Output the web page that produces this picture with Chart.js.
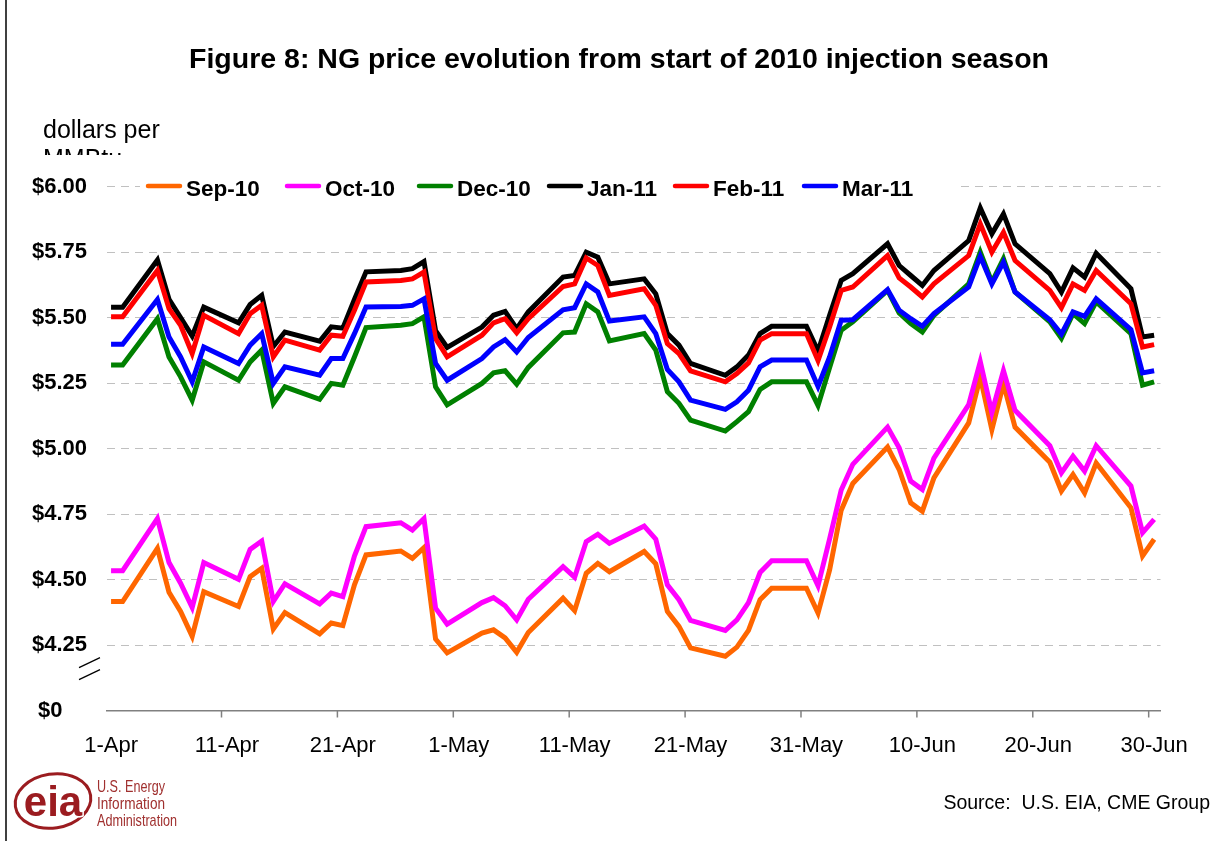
<!DOCTYPE html>
<html>
<head>
<meta charset="utf-8">
<title>NG price evolution</title>
<script src="https://cdn.jsdelivr.net/npm/chart.js@4.4.1/dist/chart.umd.min.js"></script>
<style>
  html, body { margin: 0; padding: 0; background: #fff; }
  canvas { display: block; }
</style>
</head>
<body>
<canvas id="chart" width="1228" height="841"></canvas>
<script>
const FONT = "'Liberation Sans', Arial, Helvetica, sans-serif";

// trading days, counted from 1-Apr-2010 (holidays repeat the previous settle)
const days = [
  0, 1, 4, 5, 6, 7, 8, 11, 12, 13, 14, 15, 18, 19, 20, 21, 22, 25, 26, 27, 28, 29,
  32, 33, 34, 35, 36, 39, 40, 41, 42, 43, 46, 47, 48, 49, 50, 53, 54, 55, 56, 57, 60,
  61, 62, 63, 64, 67, 68, 69, 70, 71, 74, 75, 76, 77, 78, 81, 82, 83, 84, 85, 88, 89, 90,
];

const sep10 = [
  4.416, 4.416, 4.619, 4.451, 4.378, 4.283, 4.454, 4.397, 4.511, 4.543, 4.311, 4.374, 4.293, 4.334, 4.324, 4.48, 4.594, 4.609, 4.581, 4.622, 4.273, 4.22,
  4.296, 4.308, 4.277, 4.222, 4.298, 4.429, 4.381, 4.524, 4.562, 4.53, 4.607, 4.56, 4.378, 4.321, 4.239, 4.207, 4.242, 4.306, 4.423, 4.467, 4.467,
  4.372, 4.537, 4.765, 4.867, 5.006, 4.92, 4.793, 4.761, 4.888, 5.098, 5.273, 5.072, 5.247, 5.082, 4.948, 4.838, 4.901, 4.831, 4.945, 4.774, 4.59, 4.654,
];
const oct10 = [
  4.534, 4.534, 4.733, 4.565, 4.486, 4.393, 4.565, 4.501, 4.615, 4.647, 4.416, 4.484, 4.407, 4.448, 4.435, 4.59, 4.702, 4.717, 4.689, 4.733, 4.391, 4.33,
  4.412, 4.431, 4.4, 4.346, 4.425, 4.549, 4.509, 4.645, 4.673, 4.638, 4.704, 4.654, 4.48, 4.423, 4.344, 4.306, 4.346, 4.412, 4.527, 4.572, 4.572,
  4.476, 4.655, 4.842, 4.94, 5.082, 5.003, 4.876, 4.844, 4.964, 5.168, 5.332, 5.138, 5.298, 5.146, 5.011, 4.907, 4.971, 4.914, 5.011, 4.857, 4.679, 4.73,
];
const dec10 = [
  5.319, 5.319, 5.496, 5.35, 5.274, 5.185, 5.331, 5.261, 5.331, 5.376, 5.173, 5.236, 5.188, 5.249, 5.242, 5.35, 5.462, 5.471, 5.477, 5.503, 5.236, 5.167,
  5.249, 5.289, 5.297, 5.246, 5.31, 5.442, 5.445, 5.553, 5.522, 5.411, 5.439, 5.376, 5.217, 5.173, 5.109, 5.067, 5.103, 5.141, 5.226, 5.255, 5.255,
  5.165, 5.31, 5.452, 5.484, 5.604, 5.518, 5.477, 5.445, 5.509, 5.629, 5.75, 5.636, 5.725, 5.598, 5.484, 5.421, 5.515, 5.477, 5.56, 5.439, 5.242, 5.255,
];
const jan11 = [
  5.54, 5.54, 5.72, 5.57, 5.5, 5.43, 5.54, 5.48, 5.55, 5.585, 5.39, 5.445, 5.41, 5.465, 5.46, 5.57, 5.675, 5.68, 5.687, 5.714, 5.45, 5.386,
  5.464, 5.509, 5.524, 5.458, 5.522, 5.655, 5.661, 5.75, 5.731, 5.629, 5.648, 5.591, 5.439, 5.395, 5.325, 5.28, 5.312, 5.357, 5.439, 5.467, 5.467,
  5.372, 5.509, 5.642, 5.668, 5.782, 5.699, 5.661, 5.623, 5.68, 5.794, 5.919, 5.82, 5.896, 5.782, 5.668, 5.598, 5.69, 5.655, 5.746, 5.61, 5.426, 5.433,
];
const feb11 = [
  5.503, 5.503, 5.68, 5.534, 5.471, 5.363, 5.509, 5.439, 5.515, 5.547, 5.35, 5.414, 5.376, 5.433, 5.429, 5.528, 5.636, 5.642, 5.648, 5.674, 5.42, 5.35,
  5.433, 5.48, 5.496, 5.442, 5.496, 5.619, 5.629, 5.728, 5.699, 5.585, 5.61, 5.547, 5.401, 5.363, 5.297, 5.255, 5.287, 5.327, 5.414, 5.439, 5.439,
  5.336, 5.464, 5.604, 5.617, 5.737, 5.652, 5.617, 5.579, 5.629, 5.737, 5.858, 5.75, 5.826, 5.718, 5.604, 5.538, 5.629, 5.604, 5.68, 5.553, 5.388, 5.397,
];
const mar11 = [
  5.398, 5.398, 5.569, 5.426, 5.35, 5.255, 5.388, 5.325, 5.395, 5.439, 5.249, 5.312, 5.28, 5.344, 5.344, 5.439, 5.541, 5.543, 5.547, 5.572, 5.325, 5.261,
  5.344, 5.388, 5.416, 5.369, 5.424, 5.53, 5.538, 5.629, 5.598, 5.487, 5.503, 5.439, 5.302, 5.255, 5.185, 5.15, 5.179, 5.223, 5.312, 5.338, 5.338,
  5.237, 5.35, 5.49, 5.492, 5.607, 5.528, 5.496, 5.467, 5.515, 5.617, 5.734, 5.629, 5.712, 5.598, 5.492, 5.437, 5.522, 5.505, 5.572, 5.454, 5.289, 5.297,
];

const seriesNames = ["Sep-10", "Oct-10", "Dec-10", "Jan-11", "Feb-11", "Mar-11"];
const seriesValues = [sep10, oct10, dec10, jan11, feb11, mar11];
const seriesColors = ["#ff6600", "#ff00ff", "#008000", "#000000", "#ff0000", "#0000ff"];

const xTickDays = [0, 10, 20, 30, 40, 50, 60, 70, 80, 90];
const xTickLabels = ["1-Apr", "11-Apr", "21-Apr", "1-May", "11-May", "21-May", "31-May", "10-Jun", "20-Jun", "30-Jun"];
// the bottom tick stands for the broken axis and is shown as $0
const yTicks = [4.0, 4.25, 4.5, 4.75, 5.0, 5.25, 5.5, 5.75, 6.0];

const titleText = "Figure 8: NG price evolution from start of 2010 injection season";
const sourceText = "Source:  U.S. EIA, CME Group";

// legend item starts, measured on the original figure
const legendX = [146, 285, 417, 547, 673, 802];

const datasets = seriesNames.map((name, i) => ({
  label: name,
  data: days.map((d, j) => ({ x: d, y: seriesValues[i][j] })),
  borderColor: seriesColors[i],
  backgroundColor: seriesColors[i],
  borderWidth: 5,
  pointRadius: 0,
  tension: 0,
  order: seriesNames.length - i, // later contracts sit on top
}));

const decorations = {
  id: "decorations",
  afterDraw(chart) {
    const { ctx, chartArea } = chart;
    const xs = chart.scales.x;
    const ys = chart.scales.y;
    ctx.save();

    // frame edge on the left
    ctx.strokeStyle = "#000";
    ctx.lineWidth = 1.5;
    ctx.beginPath();
    ctx.moveTo(6, 0);
    ctx.lineTo(6, 841);
    ctx.stroke();

    // title
    ctx.fillStyle = "#000";
    ctx.font = `bold 28.5px ${FONT}`;
    ctx.textAlign = "center";
    ctx.textBaseline = "alphabetic";
    ctx.fillText(titleText, 619, 68);

    // unit label, second line cut off as in the original
    ctx.font = `25px ${FONT}`;
    ctx.textAlign = "left";
    ctx.fillText("dollars per", 43, 138);
    ctx.save();
    ctx.beginPath();
    ctx.rect(0, 140, 300, 15);
    ctx.clip();
    ctx.fillText("MMBtu", 43, 167);
    ctx.restore();

    // legend inside the plot, on a white strip
    ctx.fillStyle = "#fff";
    ctx.fillRect(140, 175, 820, 26);
    ctx.font = `bold 22.5px ${FONT}`;
    chart.data.datasets.forEach((ds, i) => {
      const x0 = legendX[i];
      ctx.strokeStyle = ds.borderColor;
      ctx.lineWidth = 4.5;
      ctx.lineCap = "round";
      ctx.beginPath();
      ctx.moveTo(x0 + 2, 186);
      ctx.lineTo(x0 + 34, 186);
      ctx.stroke();
      ctx.fillStyle = "#000";
      ctx.fillText(ds.label, x0 + 40, 196);
    });
    ctx.lineCap = "butt";

    // x tick marks sit half a day before each labelled date
    ctx.strokeStyle = "#808080";
    ctx.lineWidth = 1.5;
    xTickDays.forEach((d) => {
      const px = xs.getPixelForValue(d - 0.47);
      if (px < chartArea.left + 1) return;
      ctx.beginPath();
      ctx.moveTo(px, chartArea.bottom);
      ctx.lineTo(px, chartArea.bottom + 7);
      ctx.stroke();
    });

    // axis break marks
    const by = ys.getPixelForValue(4.16);
    ctx.strokeStyle = "#000";
    ctx.lineWidth = 1.3;
    [-6, 6].forEach((off) => {
      ctx.beginPath();
      ctx.moveTo(chartArea.left - 28, by + off + 5);
      ctx.lineTo(chartArea.left - 7, by + off - 5);
      ctx.stroke();
    });

    // source
    ctx.fillStyle = "#000";
    ctx.font = `19.5px ${FONT}`;
    ctx.textAlign = "right";
    ctx.fillText(sourceText, 1210, 809);

    // EIA logo
    const red = "#9b1c20";
    ctx.strokeStyle = red;
    ctx.lineWidth = 3;
    ctx.beginPath();
    ctx.ellipse(53, 801, 38, 27, -0.15, 0, Math.PI * 2);
    ctx.stroke();
    ctx.font = `bold 42px ${FONT}`;
    ctx.textAlign = "center";
    ctx.lineWidth = 3;
    ctx.strokeStyle = "#fff";
    ctx.strokeText("eia", 53, 816, 62);
    ctx.fillStyle = red;
    ctx.fillText("eia", 53, 816, 62);
    ctx.textAlign = "left";
    ctx.fillStyle = "#a0302f";
    ctx.font = `17px ${FONT}`;
    ctx.fillText("U.S. Energy", 97, 792, 68);
    ctx.fillText("Information", 97, 809, 68);
    ctx.fillText("Administration", 97, 826, 80);

    ctx.restore();
  },
};

new Chart(document.getElementById("chart"), {
  type: "line",
  data: { datasets },
  plugins: [decorations],
  options: {
    responsive: false,
    animation: false,
    layout: { padding: { top: 186.7, left: 7, right: 67.5, bottom: 0 } },
    plugins: {
      legend: { display: false },
      tooltip: { enabled: false },
      title: { display: false },
    },
    scales: {
      x: {
        type: "linear",
        min: -0.35,
        max: 90.55,
        afterBuildTicks: (scale) => {
          scale.ticks = xTickDays.map((v) => ({ value: v }));
        },
        afterFit: (scale) => {
          scale.height = 130.5;
        },
        grid: { display: false, drawTicks: false },
        border: { display: true, color: "#808080", width: 1.5 },
        ticks: {
          autoSkip: false,
          maxRotation: 0,
          padding: 22,
          color: "#000",
          font: { family: FONT, size: 22 },
          callback: (v) => xTickLabels[xTickDays.indexOf(v)],
        },
      },
      y: {
        min: 4,
        max: 6,
        afterBuildTicks: (scale) => {
          scale.ticks = yTicks.map((v) => ({ value: v }));
        },
        afterFit: (scale) => {
          scale.width = 100;
        },
        grid: {
          color: (c) => (c.tick && c.tick.value === 4 ? "rgba(0,0,0,0)" : "#c0c0c0"),
          lineWidth: 1,
          drawTicks: false,
        },
        border: { display: false, dash: [8, 6] },
        ticks: {
          padding: 20,
          color: "#000",
          font: { family: FONT, size: 22, weight: "bold" },
          callback: (v) => (v === 4 ? "$0    " : "$" + v.toFixed(2)),
        },
      },
    },
  },
});
</script>
</body>
</html>
